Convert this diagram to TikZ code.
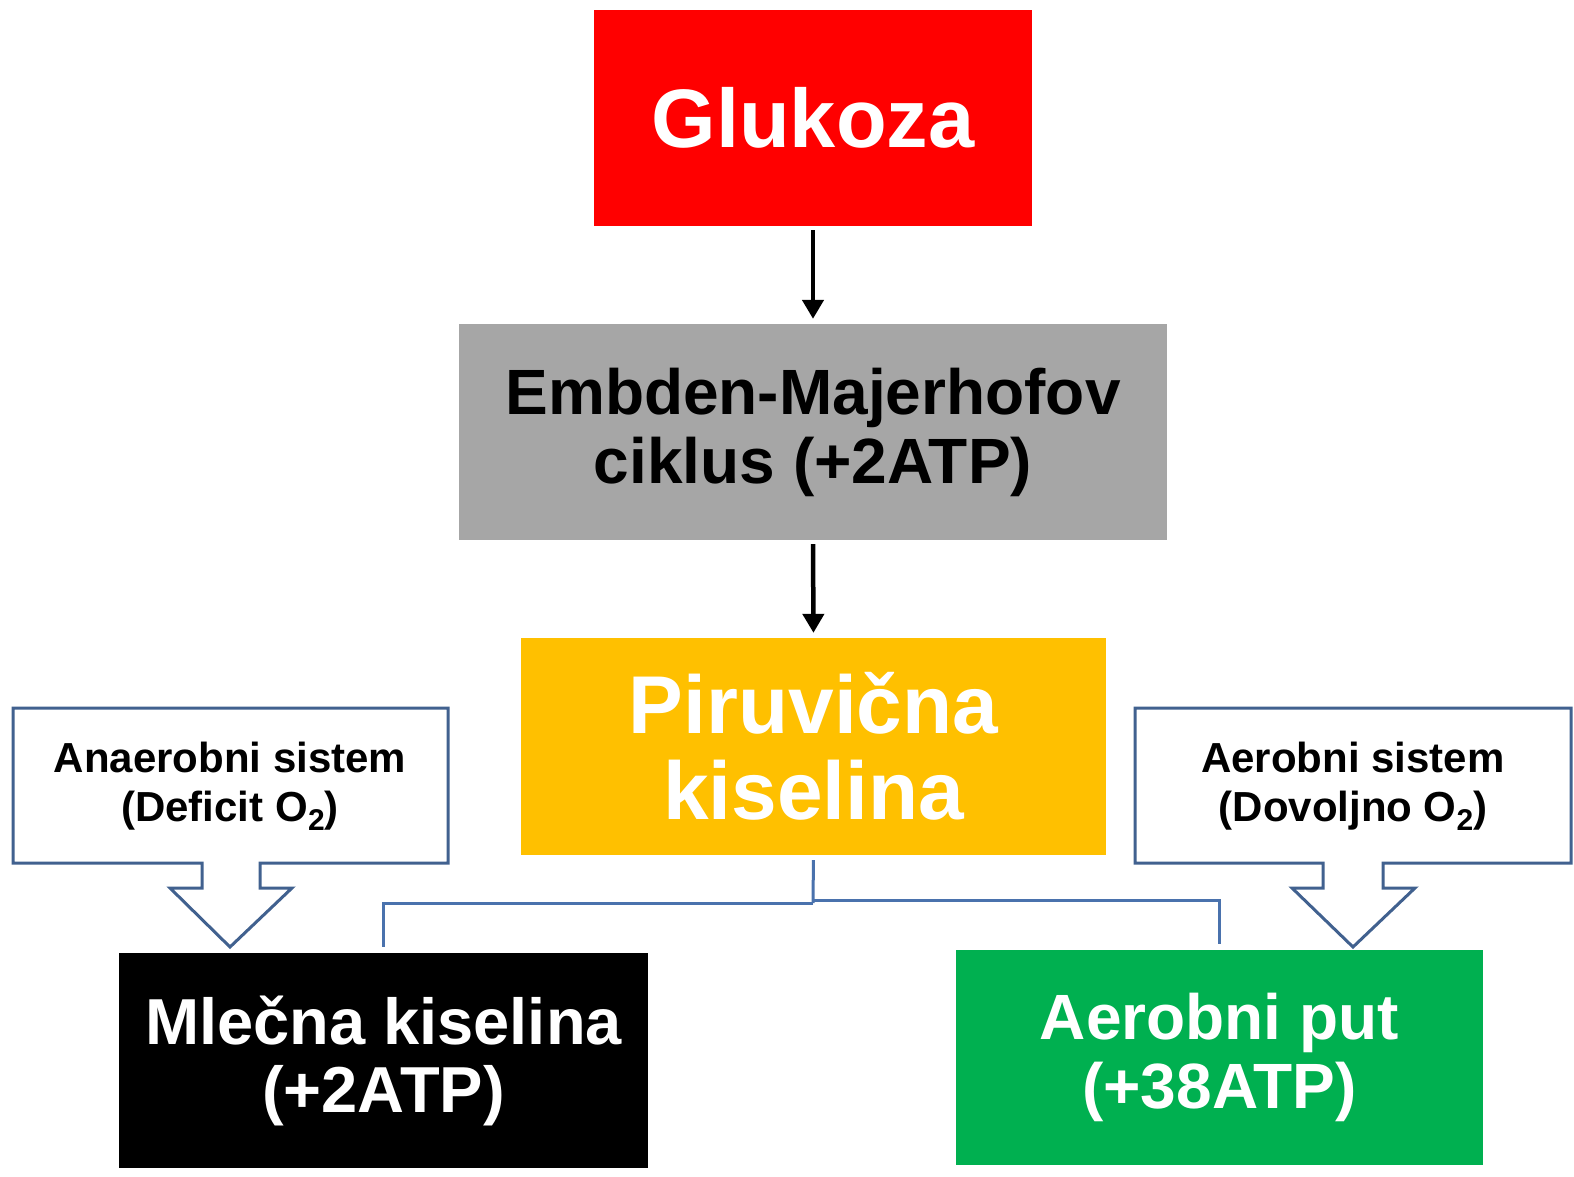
\documentclass[tikz,border=0pt]{standalone}
\usepackage{fontspec}
\setmainfont{Liberation Sans}
\usetikzlibrary{arrows.meta}
\definecolor{cred}{HTML}{FF0000}
\definecolor{cgray}{HTML}{A6A6A6}
\definecolor{cyellow}{HTML}{FFC000}
\definecolor{cgreen}{HTML}{00B050}
\definecolor{cblue}{HTML}{41618F}
\definecolor{cline}{HTML}{4A72AD}
\newcommand{\subtwo}{\raisebox{-0.22em}{\fontsize{30}{30}\selectfont 2}}
\begin{document}
\begin{tikzpicture}[x=1pt,y=-1pt,
  box/.style={rectangle, inner sep=0pt, align=center, font=\bfseries},
  arr/.style={line width=4.5pt, -{Triangle[width=21pt,length=19pt]}, shorten <=4pt, shorten >=5pt},
  conn/.style={draw=cline, line width=3pt},
  callout/.style={draw=cblue, line width=3pt, fill=white, line join=miter},
  ctext/.style={align=center, font=\bfseries\fontsize{42}{49}\selectfont, inner sep=0pt}
]
\useasboundingbox[fill=white] (0,0) rectangle (1574,1176);

\node[box, fill=cred, text=white, minimum width=438pt, minimum height=216pt,
  font=\bfseries\fontsize{83}{86}\selectfont] (glu) at (813,118) {Glukoza};
\node[box, fill=cgray, text=black, minimum width=708pt, minimum height=216pt,
  font=\bfseries\fontsize{64}{69}\selectfont] (emb) at (813,432) {Embden-Majerhofov\\ciklus (+2ATP)};
\node[box, fill=cyellow, text=white, minimum width=585pt, minimum height=217pt,
  font=\bfseries\fontsize{82}{86}\selectfont] (pir) at (813.5,746.5) {Piruvična\\kiselina};
\node[box, fill=black, text=white, minimum width=529pt, minimum height=215pt,
  font=\bfseries\fontsize{65}{68}\selectfont] (mle) at (383.5,1060.5) {Mlečna kiselina\\(+2ATP)};
\node[box, fill=cgreen, text=white, minimum width=527pt, minimum height=215pt,
  font=\bfseries\fontsize{64}{69}\selectfont] (aer) at (1219.5,1057.5) {Aerobni put\\(+38ATP)};

\draw[arr] (glu.south) -- (emb.north);
\draw[arr] (emb.south) -- (pir.north);

\coordinate (jl) at (813,903);
\coordinate (jr) at (813,900);
\draw[conn, shorten <=5pt] (pir.south) -- (jl);
\draw[conn, shorten >=6pt] (jl) -| (mle.north);
\draw[conn, shorten >=6pt] (jr) -| (aer.north);

\draw[callout] (13,708) -- (448,708) -- (448,863) -- (260,863) -- (260,888) -- (292,888)
  -- (230,947) -- (170,888) -- (202,888) -- (202,863) -- (13,863) -- cycle;
\node[ctext] (ana) at (230,786) {Anaerobni sistem\\(Deficit O\subtwo)};

\draw[callout] (1135,708) -- (1571,708) -- (1571,863) -- (1383,863) -- (1383,888) -- (1415,888)
  -- (1353,947) -- (1292,888) -- (1323,888) -- (1323,863) -- (1135,863) -- cycle;
\node[ctext] (aes) at (1353,786) {Aerobni sistem\\(Dovoljno O\subtwo)};
\end{tikzpicture}
\end{document}
